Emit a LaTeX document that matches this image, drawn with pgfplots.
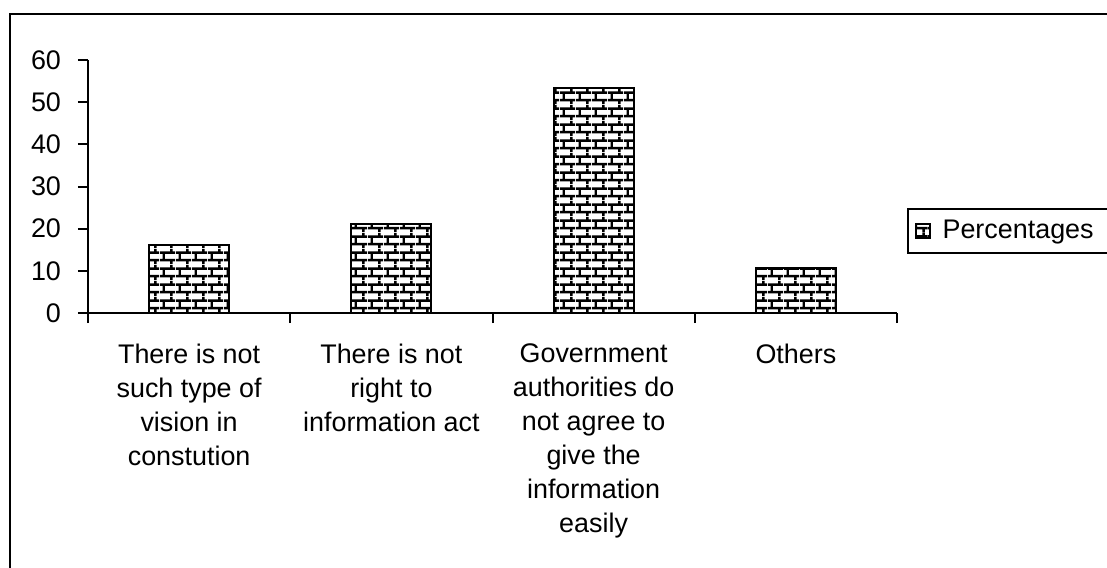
\documentclass[border=0pt]{standalone}
\usepackage{fontspec}
\setmainfont{Liberation Sans}
\usepackage{pgfplots}
\pgfplotsset{compat=1.18}
\usetikzlibrary{patterns.meta}
\tikzdeclarepattern{
  name=xbricks,
  type=uncolored,
  bounding box={(0,0) and (8bp,8bp)},
  tile size={(8bp,8bp)},
  code={
    \draw[line width=1.3bp] (0,2bp)--(8bp,2bp) (0,6bp)--(8bp,6bp)
      (2bp,2bp)--(2bp,6bp) (6bp,6bp)--(6bp,8bp) (6bp,0)--(6bp,2bp);
  }
}
\pgfplotstableread{
x y
1 16.2
2 21.0
3 53.4
4 10.6
}\datatable
\begin{document}
\begin{tikzpicture}
\useasboundingbox (0,0) rectangle (553.5bp,284bp);
\draw[line width=1.2bp] (5bp,-10bp) -- (5bp,277bp) -- (600bp,277bp);
\begin{axis}[
  at={(44bp,127.5bp)}, anchor=south west,
  scale only axis, width=404.5bp, height=126.5bp,
  xmin=0.5, xmax=4.5, ymin=0, ymax=60,
  ytick={0,10,...,60},
  xtick={1,2,3,4},
  xticklabels={{There is not\\such type of\\vision in\\constution},
               {There is not\\right to\\information act},
               {Government\\authorities do\\not agree to\\give the\\information\\easily},
               {Others}},
  minor xtick={0.5,1.5,2.5,3.5,4.5},
  axis x line*=bottom, axis y line*=left,
  axis line style={-, line width=1bp},
  tick style={line width=1bp, black},
  tick align=outside,
  major tick length=5bp,
  minor tick length=5bp,
  major x tick style={opacity=0},
  /pgf/number format/assume math mode=true,
  yticklabel style={font=\fontsize{13.5}{14}\selectfont, xshift=-5bp},
  xticklabel style={font=\fontsize{13.5}{17}\selectfont, align=center, yshift=-7bp},
  legend style={at={(1,0.324)}, anchor=west, xshift=5bp, draw=black, line width=1bp,
    font=\fontsize{13.5}{14}\selectfont, inner sep=3.5bp,
    legend cell align=left, nodes={inner xsep=6bp}},
  legend image code/.code={\draw[#1, line width=0.8bp] (0bp,-3.5bp) rectangle (7bp,3.5bp);},
]
\addplot[ybar, bar width=40bp, draw=black, line width=1bp, pattern=xbricks, pattern color=black]
  table[x=x, y=y] {\datatable};
\addlegendentry{Percentages}
\end{axis}
\end{tikzpicture}
\end{document}
